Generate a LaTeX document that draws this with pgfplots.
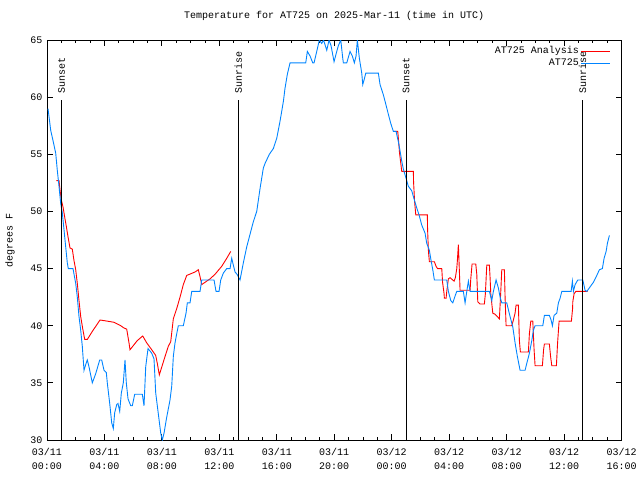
\documentclass[border=0pt]{standalone}
\usepackage{fontspec}
\setmainfont{Liberation Mono}
\usepackage{pgfplots}
\pgfplotsset{compat=1.18}
\definecolor{obsblue}{RGB}{0,132,255}
\pgfplotstableread{
h T
0.648 52.7
0.836 52.7
0.905 51.9
0.996 51.0
1.114 50.4
1.233 49.5
1.344 48.7
1.462 47.8
1.602 46.8
1.762 46.7
1.880 45.7
1.999 44.9
2.110 43.7
2.228 42.2
2.347 40.8
2.507 39.6
2.625 38.8
2.806 38.8
3.155 39.5
3.691 40.5
4.199 40.4
4.666 40.3
5.132 40.0
5.362 39.8
5.550 39.7
5.710 38.5
5.780 37.9
6.288 38.7
6.664 39.1
6.943 38.5
7.291 37.9
7.570 37.4
7.681 36.7
7.820 35.7
8.217 37.3
8.447 38.2
8.614 38.6
8.795 40.6
9.032 41.5
9.262 42.5
9.492 43.6
9.728 44.4
10.306 44.7
10.536 44.9
10.655 44.3
10.773 43.6
11.351 44.1
11.699 44.5
12.166 45.2
12.514 45.9
12.793 46.5
}\redA
\pgfplotstableread{
h T
24.116 57.0
24.422 57.0
24.464 56.4
24.547 55.1
24.701 53.5
25.509 53.5
25.522 52.6
25.592 50.9
25.676 49.7
26.483 49.7
26.497 48.5
26.553 46.6
26.623 45.6
26.971 45.6
27.089 45.2
27.194 45.0
27.486 45.0
27.542 43.8
27.646 42.8
27.667 42.4
27.786 42.4
27.834 43.0
27.946 44.1
28.064 44.2
28.252 44.0
28.343 43.9
28.433 44.2
28.531 45.0
28.572 45.7
28.642 47.1
28.691 45.5
28.760 43.1
29.457 43.1
29.506 44.1
29.596 45.4
29.854 45.4
29.924 44.5
29.993 42.1
30.153 41.9
30.453 41.9
30.522 42.8
30.620 45.3
30.801 45.3
30.850 44.2
30.898 42.8
31.038 41.1
31.198 41.0
31.358 40.8
31.497 40.6
31.595 43.0
31.664 44.9
31.846 44.9
31.894 42.5
31.964 40.0
32.361 40.0
32.472 40.5
32.591 41.1
32.660 41.8
32.821 41.8
32.890 38.7
32.960 37.7
33.517 37.7
33.587 39.3
33.684 40.4
33.823 40.4
33.914 37.9
33.983 36.5
34.492 36.5
34.575 37.9
34.631 38.4
34.979 38.4
35.063 37.3
35.146 36.5
35.467 36.5
35.550 38.5
35.655 40.4
36.511 40.4
36.595 41.5
36.609 42.1
36.699 42.8
36.818 43.0
37.639 43.0
}\redB
\pgfplotstableread{
h T
0.070 59.0
0.258 57.1
0.418 56.2
0.606 55.1
0.717 53.6
0.836 52.2
0.954 50.7
1.065 49.9
1.184 48.4
1.302 46.9
1.414 45.5
1.483 45.0
1.811 45.0
1.999 43.7
2.110 42.5
2.228 40.8
2.347 39.6
2.458 38.2
2.577 36.1
2.695 36.6
2.806 37.0
2.925 36.4
3.155 35.0
3.391 35.8
3.670 37.0
3.809 37.0
3.969 36.1
4.130 35.9
4.199 35.0
4.366 33.2
4.506 31.5
4.617 31.0
4.714 32.4
4.854 33.1
4.944 33.2
5.063 32.5
5.174 34.1
5.313 35.0
5.432 37.0
5.522 35.0
5.641 33.6
5.829 33.0
5.940 33.0
6.107 34.0
6.636 34.0
6.755 33.0
6.873 36.4
7.033 38.0
7.291 37.6
7.451 37.1
7.570 34.1
7.751 32.3
7.918 30.6
8.029 30.0
8.148 30.6
8.336 32.0
8.565 33.5
8.684 34.7
8.795 37.3
8.914 38.5
9.032 39.3
9.143 40.0
9.492 40.0
9.680 41.1
9.770 42.0
9.958 42.0
10.077 43.0
10.655 43.0
10.773 44.0
11.630 44.0
11.769 43.0
11.978 43.0
12.096 44.0
12.277 44.6
12.514 45.0
12.744 45.0
12.862 45.9
12.974 45.3
13.092 44.7
13.231 44.5
13.440 44.0
13.670 45.5
13.907 46.9
14.136 48.0
14.366 49.1
14.603 50.0
14.833 52.0
15.063 53.8
15.181 54.2
15.481 55.0
15.759 55.5
15.996 56.4
16.226 57.9
16.455 59.6
16.574 60.8
16.734 62.0
16.922 63.0
18.015 63.0
18.127 64.0
18.315 63.6
18.503 63.0
18.593 63.0
18.781 64.0
18.962 65.0
19.129 64.7
19.255 65.0
19.478 64.1
19.638 65.0
19.777 64.5
19.986 63.1
20.174 64.0
20.286 64.5
20.453 65.0
20.592 63.4
20.634 63.0
20.871 63.0
21.100 64.0
21.260 63.6
21.400 63.0
21.518 63.6
21.609 65.0
21.748 63.4
21.915 62.1
21.985 61.1
22.096 61.6
22.194 62.1
23.071 62.1
23.189 61.1
23.419 60.2
23.607 59.3
23.767 58.5
23.935 57.7
24.116 57.0
24.304 57.0
24.464 56.1
24.582 55.3
24.701 54.4
24.812 53.7
25.000 52.9
25.160 52.2
25.397 51.8
25.578 51.0
25.745 50.3
25.905 49.7
26.093 48.8
26.323 48.1
26.441 47.2
26.623 46.6
26.741 45.7
26.860 44.9
26.971 44.0
27.834 44.0
27.946 43.0
28.113 42.2
28.252 42.0
28.412 42.6
28.531 43.0
28.990 43.0
29.109 42.0
29.227 43.0
29.339 43.9
29.457 43.0
30.801 43.0
30.968 42.2
31.080 43.0
31.267 44.0
31.428 43.3
31.546 42.5
31.664 42.0
32.013 42.0
32.124 41.4
32.242 40.8
32.430 39.9
32.591 38.5
32.751 37.3
32.939 36.1
33.287 36.1
33.405 36.7
33.587 37.6
33.754 38.7
33.865 39.6
33.983 40.0
34.520 40.0
34.631 40.9
34.979 40.9
35.097 40.5
35.188 40.0
35.306 40.9
35.494 41.1
35.606 42.0
35.724 42.4
35.843 43.0
36.490 43.0
36.581 43.9
36.651 43.0
36.769 43.6
36.957 44.0
37.305 44.0
37.465 43.1
37.584 43.0
37.813 43.4
38.043 43.8
38.280 44.4
38.461 44.9
38.670 45.0
38.788 45.9
38.928 46.5
39.019 47.2
39.157 47.9
}\blueobs
\begin{document}
\begin{tikzpicture}[font=\fontsize{10}{13}\selectfont]
\begin{axis}[
  scale only axis, width=574.5pt, height=400pt,
  xmin=0, xmax=40, ymin=30, ymax=65,
  xtick={0,4,...,40},
  minor xtick={0,1,...,40},
  xticklabels={03/11\\00:00,03/11\\04:00,03/11\\08:00,03/11\\12:00,03/11\\16:00,03/11\\20:00,03/12\\00:00,03/12\\04:00,03/12\\08:00,03/12\\12:00,03/12\\16:00},
  xticklabel style={align=center, font=\fontsize{10}{13.5}\selectfont, yshift=-5pt},
  ytick={30,35,...,65},
  /pgf/number format/assume math mode=true,
  yticklabel style={xshift=-1pt},
  major tick length=6pt, minor tick length=3pt,
  every tick/.style={black, line width=0.8pt},
  axis line style={line width=0.9pt},
  title={Temperature for AT725 on 2025-Mar-11 (time in UTC)},
  title style={at={(0.5,1)}, anchor=base, yshift=16pt},
  ylabel={degrees F},
  ylabel style={at={(axis description cs:-0.0644,0.5)}, anchor=center},
  legend plot pos=right,
  legend cell align=right,
  legend style={draw=none, fill=none, at={(1,1)}, anchor=north east, xshift=-11pt, yshift=-5pt, inner sep=0pt, row sep=0.5pt, nodes={inner sep=1.5pt}},
  legend image code/.code={\draw[#1] (0pt,0pt) -- (29pt,0pt);},
]
\addplot[red, line width=0.9pt] table[x=h,y=T] {\redA};
\addlegendentry{AT725 Analysis}
\addplot[red, line width=0.9pt, forget plot] table[x=h,y=T] {\redB};
\addplot[obsblue, line width=0.9pt] table[x=h,y=T] {\blueobs};
\addlegendentry{AT725}
\addplot[black, line width=0.9pt, forget plot] coordinates {(1.010,30) (1.010,59.75)};
\addplot[black, line width=0.9pt, forget plot] coordinates {(13.32,30) (13.32,59.75)};
\addplot[black, line width=0.9pt, forget plot] coordinates {(25.00,30) (25.00,59.75)};
\addplot[black, line width=0.9pt, forget plot] coordinates {(37.28,30) (37.28,59.75)};
\node[rotate=90, anchor=west, inner sep=0pt] at (axis cs:1.010,60.3) {Sunset};
\node[rotate=90, anchor=west, inner sep=0pt] at (axis cs:13.32,60.3) {Sunrise};
\node[rotate=90, anchor=west, inner sep=0pt] at (axis cs:25.00,60.3) {Sunset};
\node[rotate=90, anchor=west, inner sep=0pt] at (axis cs:37.28,60.3) {Sunrise};
\end{axis}
\path[use as bounding box] (-47pt,-40pt) rectangle (593pt,440pt);
\end{tikzpicture}
\end{document}
